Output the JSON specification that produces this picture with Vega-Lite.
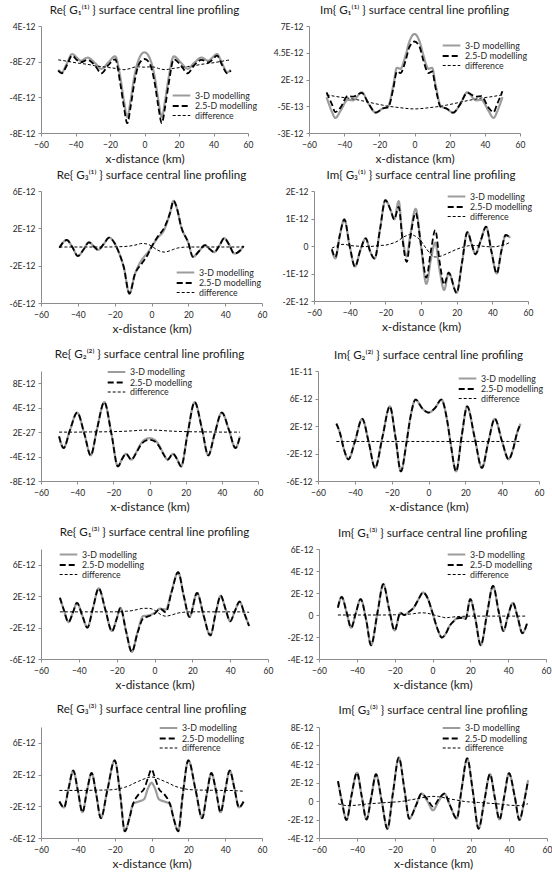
{
"$schema":"https://vega.github.io/schema/vega-lite/v6.json",
"padding":{"left":7,"top":4,"right":0,"bottom":0},
"datasets":{
"names":[{"k":"a","label":"3-D modelling"},{"k":"b","label":"2.5-D modelling"},{"k":"c","label":"difference"}],
"rows":[
{"p":1,"x":-50,"a":-0.9e-12,"b":-1.0e-12,"c":0.2e-12},
{"p":1,"x":-48,"a":-1.2e-12,"b":-1.3e-12,"c":0.15e-12},
{"p":1,"x":-45,"a":-0.2e-12,"b":-0.4e-12,"c":0.05e-12},
{"p":1,"x":-42,"a":0.86e-12,"b":0.67e-12,"c":-0.05e-12},
{"p":1,"x":-39,"a":0.4e-12,"b":0.15e-12,"c":-0.15e-12},
{"p":1,"x":-37,"a":0.1e-12,"b":-0.07e-12,"c":-0.2e-12},
{"p":1,"x":-33,"a":0.45e-12,"b":0.2e-12,"c":-0.3e-12},
{"p":1,"x":-29,"a":-0.1e-12,"b":-0.35e-12,"c":-0.45e-12},
{"p":1,"x":-25,"a":-0.8e-12,"b":-1.3e-12,"c":-0.55e-12},
{"p":1,"x":-21,"a":-0.1e-12,"b":-0.4e-12,"c":-0.65e-12},
{"p":1,"x":-17,"a":0.6e-12,"b":0.26e-12,"c":-0.75e-12},
{"p":1,"x":-14,"a":-1.8e-12,"b":-2.5e-12,"c":-0.85e-12},
{"p":1,"x":-12,"a":-4.3e-12,"b":-5.0e-12,"c":-0.9e-12},
{"p":1,"x":-10,"a":-6.2e-12,"b":-6.9e-12,"c":-0.85e-12},
{"p":1,"x":-8,"a":-4.3e-12,"b":-5.0e-12,"c":-0.75e-12},
{"p":1,"x":-6,"a":-1.8e-12,"b":-2.5e-12,"c":-0.62e-12},
{"p":1,"x":-3,"a":0.4e-12,"b":-0.2e-12,"c":-0.58e-12},
{"p":1,"x":0,"a":1.05e-12,"b":0.3e-12,"c":-0.62e-12},
{"p":1,"x":3,"a":0.4e-12,"b":-0.2e-12,"c":-0.58e-12},
{"p":1,"x":6,"a":-1.8e-12,"b":-2.5e-12,"c":-0.62e-12},
{"p":1,"x":8,"a":-4.3e-12,"b":-5.0e-12,"c":-0.75e-12},
{"p":1,"x":10,"a":-6.2e-12,"b":-6.9e-12,"c":-0.85e-12},
{"p":1,"x":12,"a":-4.3e-12,"b":-5.0e-12,"c":-0.9e-12},
{"p":1,"x":14,"a":-1.8e-12,"b":-2.5e-12,"c":-0.85e-12},
{"p":1,"x":17,"a":0.6e-12,"b":0.26e-12,"c":-0.75e-12},
{"p":1,"x":21,"a":-0.1e-12,"b":-0.4e-12,"c":-0.65e-12},
{"p":1,"x":25,"a":-0.8e-12,"b":-1.3e-12,"c":-0.55e-12},
{"p":1,"x":29,"a":-0.1e-12,"b":-0.35e-12,"c":-0.45e-12},
{"p":1,"x":33,"a":0.45e-12,"b":0.2e-12,"c":-0.3e-12},
{"p":1,"x":37,"a":0.1e-12,"b":-0.07e-12,"c":-0.2e-12},
{"p":1,"x":39,"a":0.4e-12,"b":0.15e-12,"c":-0.15e-12},
{"p":1,"x":42,"a":0.86e-12,"b":0.67e-12,"c":-0.05e-12},
{"p":1,"x":45,"a":-0.2e-12,"b":-0.4e-12,"c":0.05e-12},
{"p":1,"x":48,"a":-1.2e-12,"b":-1.3e-12,"c":0.15e-12},
{"p":1,"x":50,"a":-0.9e-12,"b":-1.0e-12,"c":0.2e-12},

{"p":2,"x":-50,"a":0.35e-12,"b":0.8e-12,"c":0.55e-12},
{"p":2,"x":-47,"a":-1.0e-12,"b":-0.3e-12,"c":0.48e-12},
{"p":2,"x":-45,"a":-1.6e-12,"b":-1.05e-12,"c":0.42e-12},
{"p":2,"x":-42,"a":-0.9e-12,"b":-0.6e-12,"c":0.35e-12},
{"p":2,"x":-38,"a":0.1e-12,"b":0.45e-12,"c":0.27e-12},
{"p":2,"x":-35,"a":0.05e-12,"b":0.4e-12,"c":0.18e-12},
{"p":2,"x":-30,"a":0.8e-12,"b":0.75e-12,"c":0.02e-12},
{"p":2,"x":-26,"a":-0.3e-12,"b":-0.3e-12,"c":-0.12e-12},
{"p":2,"x":-22,"a":-1.1e-12,"b":-1.1e-12,"c":-0.27e-12},
{"p":2,"x":-18,"a":-0.7e-12,"b":-0.7e-12,"c":-0.4e-12},
{"p":2,"x":-15,"a":-0.5e-12,"b":-0.6e-12,"c":-0.5e-12},
{"p":2,"x":-12,"a":1.5e-12,"b":1.2e-12,"c":-0.56e-12},
{"p":2,"x":-10,"a":3.1e-12,"b":2.75e-12,"c":-0.6e-12},
{"p":2,"x":-8,"a":3.0e-12,"b":2.6e-12,"c":-0.64e-12},
{"p":2,"x":-5,"a":4.3e-12,"b":3.8e-12,"c":-0.7e-12},
{"p":2,"x":-3,"a":5.5e-12,"b":5.0e-12,"c":-0.73e-12},
{"p":2,"x":0,"a":6.25e-12,"b":5.55e-12,"c":-0.75e-12},
{"p":2,"x":3,"a":5.5e-12,"b":5.0e-12,"c":-0.73e-12},
{"p":2,"x":5,"a":4.3e-12,"b":3.8e-12,"c":-0.7e-12},
{"p":2,"x":8,"a":3.0e-12,"b":2.6e-12,"c":-0.64e-12},
{"p":2,"x":10,"a":3.1e-12,"b":2.75e-12,"c":-0.6e-12},
{"p":2,"x":12,"a":1.5e-12,"b":1.2e-12,"c":-0.56e-12},
{"p":2,"x":15,"a":-0.5e-12,"b":-0.6e-12,"c":-0.5e-12},
{"p":2,"x":18,"a":-0.7e-12,"b":-0.7e-12,"c":-0.4e-12},
{"p":2,"x":22,"a":-1.1e-12,"b":-1.1e-12,"c":-0.27e-12},
{"p":2,"x":26,"a":-0.3e-12,"b":-0.3e-12,"c":-0.12e-12},
{"p":2,"x":30,"a":0.8e-12,"b":0.75e-12,"c":0.02e-12},
{"p":2,"x":35,"a":0.05e-12,"b":0.4e-12,"c":0.18e-12},
{"p":2,"x":38,"a":0.1e-12,"b":0.45e-12,"c":0.27e-12},
{"p":2,"x":42,"a":-0.9e-12,"b":-0.6e-12,"c":0.35e-12},
{"p":2,"x":45,"a":-1.6e-12,"b":-1.05e-12,"c":0.42e-12},
{"p":2,"x":47,"a":-1.0e-12,"b":-0.3e-12,"c":0.48e-12},
{"p":2,"x":50,"a":0.35e-12,"b":0.9e-12,"c":0.55e-12},

{"p":3,"x":-50,"a":-0.07e-12,"b":-0.07e-12,"c":0},
{"p":3,"x":-46,"a":0.75e-12,"b":0.75e-12,"c":0},
{"p":3,"x":-43,"a":0.0,"b":0.0,"c":0},
{"p":3,"x":-40,"a":-0.97e-12,"b":-0.97e-12,"c":0},
{"p":3,"x":-37,"a":-0.3e-12,"b":-0.3e-12,"c":0},
{"p":3,"x":-34,"a":0.5e-12,"b":0.5e-12,"c":0},
{"p":3,"x":-31,"a":0.0,"b":0.0,"c":0},
{"p":3,"x":-29,"a":-0.3e-12,"b":-0.3e-12,"c":0},
{"p":3,"x":-26,"a":0.3e-12,"b":0.3e-12,"c":0},
{"p":3,"x":-23,"a":1.0e-12,"b":1.0e-12,"c":0},
{"p":3,"x":-20,"a":0.4e-12,"b":0.4e-12,"c":0.02e-12},
{"p":3,"x":-18,"a":-0.45e-12,"b":-0.45e-12,"c":0.03e-12},
{"p":3,"x":-15,"a":-2.2e-12,"b":-2.2e-12,"c":0.05e-12},
{"p":3,"x":-12,"a":-5.0e-12,"b":-5.0e-12,"c":0.1e-12},
{"p":3,"x":-9,"a":-2.9e-12,"b":-2.9e-12,"c":0.2e-12},
{"p":3,"x":-5,"a":-1.3e-12,"b":-1.7e-12,"c":0.38e-12},
{"p":3,"x":-2,"a":-0.6e-12,"b":-0.8e-12,"c":0.3e-12},
{"p":3,"x":0,"a":0.0,"b":0.0,"c":0.1e-12},
{"p":3,"x":3,"a":0.9e-12,"b":1.0e-12,"c":-0.3e-12},
{"p":3,"x":7,"a":1.9e-12,"b":2.1e-12,"c":-0.55e-12},
{"p":3,"x":10,"a":3.6e-12,"b":3.6e-12,"c":-0.4e-12},
{"p":3,"x":12,"a":4.95e-12,"b":4.95e-12,"c":-0.25e-12},
{"p":3,"x":14,"a":4.0e-12,"b":4.0e-12,"c":-0.12e-12},
{"p":3,"x":16,"a":2.25e-12,"b":2.25e-12,"c":-0.05e-12},
{"p":3,"x":20,"a":0.45e-12,"b":0.45e-12,"c":0},
{"p":3,"x":22.5,"a":-1.05e-12,"b":-1.05e-12,"c":0},
{"p":3,"x":26,"a":-0.4e-12,"b":-0.4e-12,"c":0},
{"p":3,"x":29,"a":0.2e-12,"b":0.2e-12,"c":0},
{"p":3,"x":31.5,"a":-0.2e-12,"b":-0.2e-12,"c":0},
{"p":3,"x":34,"a":-0.55e-12,"b":-0.55e-12,"c":0},
{"p":3,"x":37,"a":0.2e-12,"b":0.2e-12,"c":0},
{"p":3,"x":39.5,"a":0.95e-12,"b":0.95e-12,"c":0},
{"p":3,"x":42,"a":0.3e-12,"b":0.3e-12,"c":0},
{"p":3,"x":45,"a":-0.7e-12,"b":-0.7e-12,"c":0},
{"p":3,"x":48,"a":-0.4e-12,"b":-0.4e-12,"c":0},
{"p":3,"x":50,"a":0.1e-12,"b":0.1e-12,"c":0},

{"p":4,"x":-50,"a":-0.15e-12,"b":-0.12e-12,"c":-0.08e-12},
{"p":4,"x":-48,"a":-0.45e-12,"b":-0.4e-12,"c":-0.02e-12},
{"p":4,"x":-45.5,"a":0.4e-12,"b":0.4e-12,"c":0.05e-12},
{"p":4,"x":-43,"a":0.97e-12,"b":0.97e-12,"c":0.06e-12},
{"p":4,"x":-40,"a":0.0,"b":0.0,"c":0.02e-12},
{"p":4,"x":-37,"a":-0.75e-12,"b":-0.75e-12,"c":0.0},
{"p":4,"x":-34,"a":-0.15e-12,"b":-0.15e-12,"c":-0.01e-12},
{"p":4,"x":-31,"a":0.28e-12,"b":0.28e-12,"c":-0.02e-12},
{"p":4,"x":-28.5,"a":-0.2e-12,"b":-0.2e-12,"c":-0.02e-12},
{"p":4,"x":-26,"a":-0.46e-12,"b":-0.46e-12,"c":0.0},
{"p":4,"x":-23,"a":0.6e-12,"b":0.6e-12,"c":0.02e-12},
{"p":4,"x":-20,"a":1.67e-12,"b":1.67e-12,"c":0.03e-12},
{"p":4,"x":-17,"a":1.3e-12,"b":1.3e-12,"c":0.08e-12},
{"p":4,"x":-15,"a":0.97e-12,"b":0.97e-12,"c":0.12e-12},
{"p":4,"x":-12.5,"a":1.63e-12,"b":1.42e-12,"c":0.2e-12},
{"p":4,"x":-10.5,"a":0.4e-12,"b":0.3e-12,"c":0.3e-12},
{"p":4,"x":-8,"a":-0.38e-12,"b":-0.58e-12,"c":0.38e-12},
{"p":4,"x":-6,"a":0.4e-12,"b":0.3e-12,"c":0.42e-12},
{"p":4,"x":-3,"a":1.35e-12,"b":1.2e-12,"c":0.35e-12},
{"p":4,"x":0,"a":0.0,"b":0.05e-12,"c":0.18e-12},
{"p":4,"x":3,"a":-1.38e-12,"b":-1.15e-12,"c":-0.1e-12},
{"p":4,"x":5.5,"a":-0.5e-12,"b":-0.2e-12,"c":-0.3e-12},
{"p":4,"x":8,"a":0.12e-12,"b":0.58e-12,"c":-0.4e-12},
{"p":4,"x":10.5,"a":-0.9e-12,"b":-0.6e-12,"c":-0.38e-12},
{"p":4,"x":13,"a":-1.6e-12,"b":-1.4e-12,"c":-0.32e-12},
{"p":4,"x":15.5,"a":-0.97e-12,"b":-0.97e-12,"c":-0.25e-12},
{"p":4,"x":20,"a":-1.7e-12,"b":-1.7e-12,"c":-0.12e-12},
{"p":4,"x":23,"a":-0.6e-12,"b":-0.6e-12,"c":-0.05e-12},
{"p":4,"x":26,"a":0.5e-12,"b":0.5e-12,"c":0.0},
{"p":4,"x":28.5,"a":0.05e-12,"b":0.05e-12,"c":0.02e-12},
{"p":4,"x":30.5,"a":-0.3e-12,"b":-0.3e-12,"c":0.02e-12},
{"p":4,"x":33.5,"a":0.2e-12,"b":0.2e-12,"c":0.0},
{"p":4,"x":36.5,"a":0.7e-12,"b":0.7e-12,"c":-0.02e-12},
{"p":4,"x":39.5,"a":-0.2e-12,"b":-0.2e-12,"c":-0.03e-12},
{"p":4,"x":42.5,"a":-1.0e-12,"b":-1.0e-12,"c":-0.02e-12},
{"p":4,"x":45,"a":-0.2e-12,"b":-0.2e-12,"c":0.02e-12},
{"p":4,"x":47.5,"a":0.4e-12,"b":0.4e-12,"c":0.06e-12},
{"p":4,"x":50,"a":0.3e-12,"b":0.3e-12,"c":0.14e-12},

{"p":5,"x":-50,"a":-0.7e-12,"b":-0.7e-12,"c":0.0},
{"p":5,"x":-47.5,"a":-2.6e-12,"b":-2.6e-12,"c":0.0},
{"p":5,"x":-44,"a":0.3e-12,"b":0.3e-12,"c":0.0},
{"p":5,"x":-40,"a":3.2e-12,"b":3.2e-12,"c":0.0},
{"p":5,"x":-36,"a":-0.3e-12,"b":-0.3e-12,"c":0.02e-12},
{"p":5,"x":-32.5,"a":-3.8e-12,"b":-3.8e-12,"c":0.03e-12},
{"p":5,"x":-29,"a":0.55e-12,"b":0.55e-12,"c":0.04e-12},
{"p":5,"x":-25,"a":4.9e-12,"b":4.9e-12,"c":0.05e-12},
{"p":5,"x":-21,"a":-0.35e-12,"b":-0.35e-12,"c":0.07e-12},
{"p":5,"x":-17.5,"a":-5.6e-12,"b":-5.6e-12,"c":0.1e-12},
{"p":5,"x":-15,"a":-4.3e-12,"b":-4.3e-12,"c":0.12e-12},
{"p":5,"x":-13,"a":-3.55e-12,"b":-3.55e-12,"c":0.15e-12},
{"p":5,"x":-10,"a":-4.5e-12,"b":-4.5e-12,"c":0.2e-12},
{"p":5,"x":-7.5,"a":-3.4e-12,"b":-3.5e-12,"c":0.25e-12},
{"p":5,"x":-5,"a":-2.0e-12,"b":-2.2e-12,"c":0.3e-12},
{"p":5,"x":-2.5,"a":-1.2e-12,"b":-1.45e-12,"c":0.33e-12},
{"p":5,"x":0,"a":-1.0e-12,"b":-1.25e-12,"c":0.35e-12},
{"p":5,"x":2.5,"a":-1.2e-12,"b":-1.45e-12,"c":0.33e-12},
{"p":5,"x":5,"a":-2.0e-12,"b":-2.2e-12,"c":0.3e-12},
{"p":5,"x":7.5,"a":-3.4e-12,"b":-3.5e-12,"c":0.25e-12},
{"p":5,"x":10,"a":-4.5e-12,"b":-4.5e-12,"c":0.2e-12},
{"p":5,"x":13,"a":-3.55e-12,"b":-3.55e-12,"c":0.15e-12},
{"p":5,"x":15,"a":-4.3e-12,"b":-4.3e-12,"c":0.12e-12},
{"p":5,"x":17.5,"a":-5.6e-12,"b":-5.6e-12,"c":0.1e-12},
{"p":5,"x":21,"a":-0.35e-12,"b":-0.35e-12,"c":0.07e-12},
{"p":5,"x":25,"a":4.9e-12,"b":4.9e-12,"c":0.05e-12},
{"p":5,"x":29,"a":0.55e-12,"b":0.55e-12,"c":0.04e-12},
{"p":5,"x":32.5,"a":-3.8e-12,"b":-3.8e-12,"c":0.03e-12},
{"p":5,"x":36,"a":-0.3e-12,"b":-0.3e-12,"c":0.02e-12},
{"p":5,"x":40,"a":3.2e-12,"b":3.2e-12,"c":0.0},
{"p":5,"x":44,"a":0.3e-12,"b":0.3e-12,"c":0.0},
{"p":5,"x":47.5,"a":-2.6e-12,"b":-2.6e-12,"c":0.0},
{"p":5,"x":50,"a":-0.7e-12,"b":-0.7e-12,"c":0.0},

{"p":6,"x":-50,"a":2.35e-12,"b":2.35e-12,"c":-0.25e-12},
{"p":6,"x":-48,"a":0.9e-12,"b":0.9e-12,"c":-0.25e-12},
{"p":6,"x":-46,"a":-1.3e-12,"b":-1.3e-12,"c":-0.25e-12},
{"p":6,"x":-43.5,"a":-2.85e-12,"b":-2.85e-12,"c":-0.25e-12},
{"p":6,"x":-40,"a":-0.3e-12,"b":-0.3e-12,"c":-0.25e-12},
{"p":6,"x":-36,"a":3.05e-12,"b":3.05e-12,"c":-0.25e-12},
{"p":6,"x":-32.5,"a":-0.3e-12,"b":-0.3e-12,"c":-0.25e-12},
{"p":6,"x":-29,"a":-4.1e-12,"b":-4.1e-12,"c":-0.25e-12},
{"p":6,"x":-25,"a":0.4e-12,"b":0.4e-12,"c":-0.25e-12},
{"p":6,"x":-21,"a":4.85e-12,"b":4.85e-12,"c":-0.25e-12},
{"p":6,"x":-18,"a":0.5e-12,"b":0.5e-12,"c":-0.25e-12},
{"p":6,"x":-15,"a":-4.6e-12,"b":-4.6e-12,"c":-0.25e-12},
{"p":6,"x":-12,"a":-0.5e-12,"b":-0.5e-12,"c":-0.25e-12},
{"p":6,"x":-10,"a":3.0e-12,"b":3.0e-12,"c":-0.25e-12},
{"p":6,"x":-7,"a":5.85e-12,"b":5.85e-12,"c":-0.25e-12},
{"p":6,"x":-3.5,"a":4.6e-12,"b":4.6e-12,"c":-0.25e-12},
{"p":6,"x":0,"a":3.95e-12,"b":3.95e-12,"c":-0.25e-12},
{"p":6,"x":3.5,"a":4.6e-12,"b":4.6e-12,"c":-0.25e-12},
{"p":6,"x":7,"a":5.85e-12,"b":5.85e-12,"c":-0.25e-12},
{"p":6,"x":10,"a":3.0e-12,"b":3.0e-12,"c":-0.25e-12},
{"p":6,"x":12,"a":-0.5e-12,"b":-0.5e-12,"c":-0.25e-12},
{"p":6,"x":15,"a":-4.6e-12,"b":-4.6e-12,"c":-0.25e-12},
{"p":6,"x":18,"a":0.5e-12,"b":0.5e-12,"c":-0.25e-12},
{"p":6,"x":21,"a":4.85e-12,"b":4.85e-12,"c":-0.25e-12},
{"p":6,"x":25,"a":0.4e-12,"b":0.4e-12,"c":-0.25e-12},
{"p":6,"x":29,"a":-4.1e-12,"b":-4.1e-12,"c":-0.25e-12},
{"p":6,"x":32.5,"a":-0.3e-12,"b":-0.3e-12,"c":-0.25e-12},
{"p":6,"x":36,"a":3.05e-12,"b":3.05e-12,"c":-0.25e-12},
{"p":6,"x":40,"a":-0.3e-12,"b":-0.3e-12,"c":-0.25e-12},
{"p":6,"x":43.5,"a":-2.85e-12,"b":-2.85e-12,"c":-0.25e-12},
{"p":6,"x":46,"a":-1.3e-12,"b":-1.3e-12,"c":-0.25e-12},
{"p":6,"x":48,"a":0.9e-12,"b":0.9e-12,"c":-0.25e-12},
{"p":6,"x":50,"a":2.35e-12,"b":2.35e-12,"c":-0.25e-12},

{"p":7,"x":-50,"a":1.8e-12,"b":1.8e-12,"c":0.0},
{"p":7,"x":-48,"a":0.3e-12,"b":0.3e-12,"c":0.0},
{"p":7,"x":-45.5,"a":-1.3e-12,"b":-1.3e-12,"c":0.0},
{"p":7,"x":-43,"a":0.0,"b":0.0,"c":0.0},
{"p":7,"x":-41,"a":1.15e-12,"b":1.15e-12,"c":0.0},
{"p":7,"x":-38,"a":-0.6e-12,"b":-0.6e-12,"c":0.0},
{"p":7,"x":-35.5,"a":-2.0e-12,"b":-2.0e-12,"c":0.0},
{"p":7,"x":-32.5,"a":0.5e-12,"b":0.5e-12,"c":0.0},
{"p":7,"x":-29.5,"a":3.0e-12,"b":3.0e-12,"c":0.0},
{"p":7,"x":-26,"a":0.3e-12,"b":0.3e-12,"c":0.0},
{"p":7,"x":-22.5,"a":-2.45e-12,"b":-2.45e-12,"c":0.0},
{"p":7,"x":-20,"a":-0.9e-12,"b":-0.9e-12,"c":0.01e-12},
{"p":7,"x":-18,"a":0.5e-12,"b":0.5e-12,"c":0.02e-12},
{"p":7,"x":-15,"a":-2.5e-12,"b":-2.5e-12,"c":0.08e-12},
{"p":7,"x":-12,"a":-5.1e-12,"b":-5.1e-12,"c":0.15e-12},
{"p":7,"x":-9,"a":-2.6e-12,"b":-2.7e-12,"c":0.3e-12},
{"p":7,"x":-6,"a":-0.55e-12,"b":-0.85e-12,"c":0.45e-12},
{"p":7,"x":-3,"a":-0.45e-12,"b":-0.55e-12,"c":0.45e-12},
{"p":7,"x":0,"a":-0.15e-12,"b":-0.25e-12,"c":0.2e-12},
{"p":7,"x":3,"a":0.4e-12,"b":0.4e-12,"c":-0.3e-12},
{"p":7,"x":6,"a":0.3e-12,"b":-0.05e-12,"c":-0.55e-12},
{"p":7,"x":9,"a":2.6e-12,"b":2.5e-12,"c":-0.4e-12},
{"p":7,"x":12.5,"a":5.05e-12,"b":5.05e-12,"c":-0.15e-12},
{"p":7,"x":15.5,"a":2.0e-12,"b":2.0e-12,"c":-0.05e-12},
{"p":7,"x":18.5,"a":-0.65e-12,"b":-0.65e-12,"c":0.0},
{"p":7,"x":22.5,"a":2.4e-12,"b":2.4e-12,"c":0.0},
{"p":7,"x":26,"a":-0.5e-12,"b":-0.5e-12,"c":0.0},
{"p":7,"x":29.5,"a":-3.0e-12,"b":-3.0e-12,"c":0.0},
{"p":7,"x":32.5,"a":0.0,"b":0.0,"c":0.0},
{"p":7,"x":35,"a":2.05e-12,"b":2.05e-12,"c":0.0},
{"p":7,"x":37.5,"a":0.4e-12,"b":0.4e-12,"c":0.0},
{"p":7,"x":40,"a":-1.2e-12,"b":-1.2e-12,"c":0.0},
{"p":7,"x":42.5,"a":0.1e-12,"b":0.1e-12,"c":0.0},
{"p":7,"x":45,"a":1.3e-12,"b":1.3e-12,"c":0.0},
{"p":7,"x":47.5,"a":-0.2e-12,"b":-0.2e-12,"c":-0.02e-12},
{"p":7,"x":50,"a":-1.8e-12,"b":-1.8e-12,"c":-0.05e-12},

{"p":8,"x":-50,"a":0.67e-12,"b":0.67e-12,"c":0.0},
{"p":8,"x":-48,"a":1.65e-12,"b":1.65e-12,"c":0.0},
{"p":8,"x":-45.5,"a":0.3e-12,"b":0.3e-12,"c":0.0},
{"p":8,"x":-43,"a":-1.15e-12,"b":-1.15e-12,"c":0.0},
{"p":8,"x":-40.5,"a":0.2e-12,"b":0.2e-12,"c":0.0},
{"p":8,"x":-38,"a":1.45e-12,"b":1.45e-12,"c":0.0},
{"p":8,"x":-35,"a":-0.5e-12,"b":-0.5e-12,"c":0.0},
{"p":8,"x":-32.5,"a":-2.75e-12,"b":-2.75e-12,"c":0.0},
{"p":8,"x":-29,"a":0.3e-12,"b":0.3e-12,"c":0.0},
{"p":8,"x":-26,"a":2.8e-12,"b":2.8e-12,"c":0.0},
{"p":8,"x":-23,"a":0.6e-12,"b":0.6e-12,"c":0.01e-12},
{"p":8,"x":-20,"a":-1.4e-12,"b":-1.4e-12,"c":0.02e-12},
{"p":8,"x":-17,"a":0.2e-12,"b":0.2e-12,"c":0.03e-12},
{"p":8,"x":-15,"a":0.0,"b":0.0,"c":0.05e-12},
{"p":8,"x":-12,"a":0.35e-12,"b":0.35e-12,"c":0.08e-12},
{"p":8,"x":-10,"a":0.65e-12,"b":0.65e-12,"c":0.12e-12},
{"p":8,"x":-7.5,"a":1.4e-12,"b":1.4e-12,"c":0.18e-12},
{"p":8,"x":-5,"a":2.05e-12,"b":2.05e-12,"c":0.2e-12},
{"p":8,"x":-2.5,"a":1.5e-12,"b":1.5e-12,"c":0.15e-12},
{"p":8,"x":0,"a":0.2e-12,"b":0.2e-12,"c":0.05e-12},
{"p":8,"x":2.5,"a":-1.2e-12,"b":-1.2e-12,"c":-0.08e-12},
{"p":8,"x":5,"a":-2.05e-12,"b":-2.05e-12,"c":-0.18e-12},
{"p":8,"x":7,"a":-1.7e-12,"b":-1.7e-12,"c":-0.25e-12},
{"p":8,"x":9,"a":-1.0e-12,"b":-1.0e-12,"c":-0.22e-12},
{"p":8,"x":11,"a":-0.6e-12,"b":-0.6e-12,"c":-0.18e-12},
{"p":8,"x":13,"a":-0.3e-12,"b":-0.3e-12,"c":-0.14e-12},
{"p":8,"x":16,"a":-0.25e-12,"b":-0.25e-12,"c":-0.12e-12},
{"p":8,"x":17.5,"a":-0.35e-12,"b":-0.35e-12,"c":-0.11e-12},
{"p":8,"x":20,"a":1.45e-12,"b":1.45e-12,"c":-0.1e-12},
{"p":8,"x":22.5,"a":-0.2e-12,"b":-0.2e-12,"c":-0.1e-12},
{"p":8,"x":25.5,"a":-2.75e-12,"b":-2.75e-12,"c":-0.1e-12},
{"p":8,"x":29,"a":0.3e-12,"b":0.3e-12,"c":-0.1e-12},
{"p":8,"x":32,"a":2.65e-12,"b":2.65e-12,"c":-0.1e-12},
{"p":8,"x":35,"a":0.3e-12,"b":0.3e-12,"c":-0.1e-12},
{"p":8,"x":37.5,"a":-1.45e-12,"b":-1.45e-12,"c":-0.1e-12},
{"p":8,"x":40,"a":0.0,"b":0.0,"c":-0.1e-12},
{"p":8,"x":42.5,"a":1.1e-12,"b":1.1e-12,"c":-0.1e-12},
{"p":8,"x":45,"a":-0.2e-12,"b":-0.2e-12,"c":-0.1e-12},
{"p":8,"x":47.5,"a":-1.65e-12,"b":-1.65e-12,"c":-0.1e-12},
{"p":8,"x":50,"a":-0.75e-12,"b":-0.75e-12,"c":-0.1e-12},

{"p":9,"x":-50,"a":-1.4e-12,"b":-1.4e-12,"c":0.0},
{"p":9,"x":-47.5,"a":-2.15e-12,"b":-2.15e-12,"c":0.0},
{"p":9,"x":-45,"a":0.3e-12,"b":0.3e-12,"c":0.0},
{"p":9,"x":-42.5,"a":2.5e-12,"b":2.5e-12,"c":0.0},
{"p":9,"x":-40,"a":0.0,"b":0.0,"c":0.0},
{"p":9,"x":-37.5,"a":-2.75e-12,"b":-2.75e-12,"c":0.0},
{"p":9,"x":-35,"a":0.0,"b":0.0,"c":0.01e-12},
{"p":9,"x":-32.5,"a":2.2e-12,"b":2.2e-12,"c":0.02e-12},
{"p":9,"x":-30,"a":-0.5e-12,"b":-0.5e-12,"c":0.03e-12},
{"p":9,"x":-27.5,"a":-3.5e-12,"b":-3.5e-12,"c":0.04e-12},
{"p":9,"x":-24,"a":0.0,"b":0.0,"c":0.06e-12},
{"p":9,"x":-20,"a":3.8e-12,"b":3.8e-12,"c":0.12e-12},
{"p":9,"x":-17,"a":-0.5e-12,"b":-0.5e-12,"c":0.25e-12},
{"p":9,"x":-14.5,"a":-5.15e-12,"b":-5.15e-12,"c":0.4e-12},
{"p":9,"x":-12,"a":-3.5e-12,"b":-3.5e-12,"c":0.6e-12},
{"p":9,"x":-10,"a":-1.7e-12,"b":-1.7e-12,"c":0.85e-12},
{"p":9,"x":-7,"a":-1.4e-12,"b":-0.5e-12,"c":1.15e-12},
{"p":9,"x":-4,"a":-1.1e-12,"b":0.2e-12,"c":1.45e-12},
{"p":9,"x":-2,"a":0.2e-12,"b":1.5e-12,"c":1.62e-12},
{"p":9,"x":0,"a":0.95e-12,"b":2.65e-12,"c":1.7e-12},
{"p":9,"x":2,"a":0.2e-12,"b":1.5e-12,"c":1.62e-12},
{"p":9,"x":4,"a":-1.1e-12,"b":0.2e-12,"c":1.45e-12},
{"p":9,"x":7,"a":-1.4e-12,"b":-0.5e-12,"c":1.15e-12},
{"p":9,"x":10,"a":-1.7e-12,"b":-1.7e-12,"c":0.85e-12},
{"p":9,"x":12,"a":-3.5e-12,"b":-3.5e-12,"c":0.6e-12},
{"p":9,"x":14.5,"a":-5.15e-12,"b":-5.15e-12,"c":0.4e-12},
{"p":9,"x":17,"a":-0.5e-12,"b":-0.5e-12,"c":0.25e-12},
{"p":9,"x":20,"a":3.8e-12,"b":3.8e-12,"c":0.12e-12},
{"p":9,"x":24,"a":0.0,"b":0.0,"c":0.06e-12},
{"p":9,"x":27.5,"a":-3.5e-12,"b":-3.5e-12,"c":0.04e-12},
{"p":9,"x":30,"a":-0.5e-12,"b":-0.5e-12,"c":0.03e-12},
{"p":9,"x":32.5,"a":2.2e-12,"b":2.2e-12,"c":0.02e-12},
{"p":9,"x":35,"a":0.0,"b":0.0,"c":0.01e-12},
{"p":9,"x":37.5,"a":-2.75e-12,"b":-2.75e-12,"c":0.0},
{"p":9,"x":40,"a":0.0,"b":0.0,"c":0.0},
{"p":9,"x":42.5,"a":2.5e-12,"b":2.5e-12,"c":0.0},
{"p":9,"x":45,"a":0.3e-12,"b":0.3e-12,"c":-0.03e-12},
{"p":9,"x":47.5,"a":-2.15e-12,"b":-2.15e-12,"c":-0.06e-12},
{"p":9,"x":50,"a":-1.4e-12,"b":-1.4e-12,"c":-0.1e-12},

{"p":10,"x":-50,"a":2.15e-12,"b":2.15e-12,"c":-0.3e-12},
{"p":10,"x":-48,"a":0.0,"b":0.0,"c":-0.4e-12},
{"p":10,"x":-45.5,"a":-2.05e-12,"b":-2.05e-12,"c":-0.5e-12},
{"p":10,"x":-43,"a":0.5e-12,"b":0.5e-12,"c":-0.48e-12},
{"p":10,"x":-40,"a":3.05e-12,"b":3.05e-12,"c":-0.45e-12},
{"p":10,"x":-37.5,"a":0.5e-12,"b":0.5e-12,"c":-0.38e-12},
{"p":10,"x":-35,"a":-2.0e-12,"b":-2.0e-12,"c":-0.33e-12},
{"p":10,"x":-32.5,"a":0.4e-12,"b":0.4e-12,"c":-0.28e-12},
{"p":10,"x":-30,"a":2.9e-12,"b":2.9e-12,"c":-0.25e-12},
{"p":10,"x":-27,"a":0.0,"b":0.0,"c":-0.2e-12},
{"p":10,"x":-24,"a":-3.0e-12,"b":-3.0e-12,"c":-0.16e-12},
{"p":10,"x":-21,"a":1.0e-12,"b":1.0e-12,"c":-0.12e-12},
{"p":10,"x":-18,"a":4.7e-12,"b":4.7e-12,"c":-0.08e-12},
{"p":10,"x":-15,"a":1.2e-12,"b":1.2e-12,"c":0.0},
{"p":10,"x":-12.5,"a":-1.9e-12,"b":-1.9e-12,"c":0.1e-12},
{"p":10,"x":-9,"a":-0.5e-12,"b":-0.5e-12,"c":0.22e-12},
{"p":10,"x":-6,"a":0.8e-12,"b":0.8e-12,"c":0.35e-12},
{"p":10,"x":-3,"a":0.0,"b":0.2e-12,"c":0.45e-12},
{"p":10,"x":0,"a":-1.0e-12,"b":-0.6e-12,"c":0.5e-12},
{"p":10,"x":3,"a":0.0,"b":0.2e-12,"c":0.45e-12},
{"p":10,"x":6,"a":0.8e-12,"b":0.8e-12,"c":0.35e-12},
{"p":10,"x":9,"a":-0.5e-12,"b":-0.5e-12,"c":0.22e-12},
{"p":10,"x":12.5,"a":-1.9e-12,"b":-1.9e-12,"c":0.1e-12},
{"p":10,"x":15,"a":1.2e-12,"b":1.2e-12,"c":0.0},
{"p":10,"x":18,"a":4.6e-12,"b":4.6e-12,"c":-0.08e-12},
{"p":10,"x":21,"a":1.0e-12,"b":1.0e-12,"c":-0.12e-12},
{"p":10,"x":24,"a":-3.0e-12,"b":-3.0e-12,"c":-0.16e-12},
{"p":10,"x":27,"a":0.0,"b":0.0,"c":-0.2e-12},
{"p":10,"x":30,"a":2.9e-12,"b":2.9e-12,"c":-0.25e-12},
{"p":10,"x":32.5,"a":0.4e-12,"b":0.4e-12,"c":-0.28e-12},
{"p":10,"x":35,"a":-2.0e-12,"b":-2.0e-12,"c":-0.33e-12},
{"p":10,"x":37.5,"a":0.5e-12,"b":0.5e-12,"c":-0.38e-12},
{"p":10,"x":40,"a":3.0e-12,"b":3.0e-12,"c":-0.45e-12},
{"p":10,"x":43,"a":0.5e-12,"b":0.5e-12,"c":-0.48e-12},
{"p":10,"x":45.5,"a":-2.05e-12,"b":-2.05e-12,"c":-0.5e-12},
{"p":10,"x":48,"a":0.0,"b":0.0,"c":-0.4e-12},
{"p":10,"x":50,"a":2.2e-12,"b":2.2e-12,"c":-0.3e-12}
]},
"data":{"name":"rows"},
"transform":[
{"fold":["a","b","c"],"as":["k","v"]},
{"lookup":"k","from":{"data":{"name":"names"},"key":"k","fields":["label"]}},
{"filter":"isValid(datum.v)"}
],
"config":{
"font":"Lato",
"view":{"stroke":null},
"title":{"fontSize":11.6,"fontWeight":"normal","frame":"group","offset":5,"color":"#1a1a1a","font":"Lato"},
"axis":{"grid":false,"domainColor":"#8c8c8c","tickColor":"#8c8c8c","tickSize":3,"labelFontSize":8.5,"labelColor":"#262626","labelFont":"Lato","titleFont":"Lato","titleFontSize":12,"titleFontWeight":"normal","titleColor":"#1a1a1a","labelFlush":false,"labelOverlap":false},
"axisX":{"labelPadding":4,"titlePadding":5},
"axisY":{"minExtent":34,"maxExtent":34,"labelPadding":3},
"legend":{"orient":"none","symbolType":"M-2.2,0H2.2","symbolSize":64,"labelFontSize":8.8,"labelFont":"Lato","labelColor":"#262626","padding":0,"rowPadding":0,"labelOffset":8}
},
"resolve":{"scale":{"color":"independent","strokeDash":"independent","strokeWidth":"independent"},"legend":{"color":"independent","strokeDash":"independent","strokeWidth":"independent"}},
"spacing":4,
"vconcat":[
{"hconcat":[
{"title":{"text":"Re{ G₁⁽¹⁾ }  surface central line profiling","offset":5.5},"width":207,"height":107,
"transform":[{"filter":"datum.p==1"}],
"mark":{"type":"line","interpolate":"monotone"},
"encoding":{
"x":{"field":"x","type":"quantitative","title":"x-distance (km)","scale":{"domain":[-60,60],"nice":false},"axis":{"values":[-60,-40,-20,0,20,40,60]}},
"y":{"field":"v","type":"quantitative","title":null,"scale":{"domain":[-8e-12,4e-12],"nice":false,"zero":false},"axis":{"values":[-8e-12,-4e-12,0,4e-12],"labelExpr":"datum.value==0?'-8E-27':upper(toString(datum.value))"}},
"color":{"field":"label","type":"nominal","title":null,"scale":{"domain":["3-D modelling","2.5-D modelling","difference"],"range":["#9c9c9c","#000000","#000000"]},"legend":{"legendX":135,"legendY":64}},
"strokeDash":{"field":"label","type":"nominal","title":null,"scale":{"domain":["3-D modelling","2.5-D modelling","difference"],"range":[[1,0],[6,3],[3,2]]}},
"strokeWidth":{"field":"label","type":"nominal","title":null,"scale":{"type":"ordinal","domain":["3-D modelling","2.5-D modelling","difference"],"range":[2.2,1.8,1]}}}},
{"title":{"text":"Im{ G₁⁽¹⁾ }  surface central line profiling","offset":5.5},"width":211,"height":107,
"transform":[{"filter":"datum.p==2"}],
"mark":{"type":"line","interpolate":"monotone"},
"encoding":{
"x":{"field":"x","type":"quantitative","title":"x-distance (km)","scale":{"domain":[-60,60],"nice":false},"axis":{"values":[-60,-40,-20,0,20,40,60]}},
"y":{"field":"v","type":"quantitative","title":null,"scale":{"domain":[-3e-12,7e-12],"nice":false,"zero":false},"axis":{"values":[-3e-12,-5e-13,2e-12,4.5e-12,7e-12],"labelExpr":"datum.value==0?'0':upper(toString(datum.value))"}},
"color":{"field":"label","type":"nominal","title":null,"scale":{"domain":["3-D modelling","2.5-D modelling","difference"],"range":["#9c9c9c","#000000","#000000"]},"legend":{"legendX":137,"legendY":14}},
"strokeDash":{"field":"label","type":"nominal","title":null,"scale":{"domain":["3-D modelling","2.5-D modelling","difference"],"range":[[1,0],[6,3],[3,2]]}},
"strokeWidth":{"field":"label","type":"nominal","title":null,"scale":{"type":"ordinal","domain":["3-D modelling","2.5-D modelling","difference"],"range":[2.2,1.8,1]}}}}
],"spacing":61,"bounds":"flush",
"resolve":{"scale":{"color":"independent","strokeDash":"independent","strokeWidth":"independent"},"legend":{"color":"independent","strokeDash":"independent","strokeWidth":"independent"}}},
{"vconcat":[
{"hconcat":[
{"title":{"text":"Re{ G₃⁽¹⁾ }  surface central line profiling","offset":5.5},"width":221,"height":112,
"transform":[{"filter":"datum.p==3"}],
"mark":{"type":"line","interpolate":"monotone"},
"encoding":{
"x":{"field":"x","type":"quantitative","title":"x-distance (km)","scale":{"domain":[-60,60],"nice":false},"axis":{"values":[-60,-40,-20,0,20,40,60]}},
"y":{"field":"v","type":"quantitative","title":null,"scale":{"domain":[-6e-12,6e-12],"nice":false,"zero":false},"axis":{"values":[-6e-12,-2e-12,2e-12,6e-12],"labelExpr":"datum.value==0?'0':upper(toString(datum.value))"}},
"color":{"field":"label","type":"nominal","title":null,"scale":{"domain":["3-D modelling","2.5-D modelling","difference"],"range":["#9c9c9c","#000000","#000000"]},"legend":{"legendX":139,"legendY":76}},
"strokeDash":{"field":"label","type":"nominal","title":null,"scale":{"domain":["3-D modelling","2.5-D modelling","difference"],"range":[[1,0],[6,3],[3,2]]}},
"strokeWidth":{"field":"label","type":"nominal","title":null,"scale":{"type":"ordinal","domain":["3-D modelling","2.5-D modelling","difference"],"range":[2.2,1.8,1]}}}},
{"title":{"text":"Im{ G₃⁽¹⁾ }  surface central line profiling","offset":5.5},"width":214,"height":110,
"transform":[{"filter":"datum.p==4"}],
"mark":{"type":"line","interpolate":"monotone"},
"encoding":{
"x":{"field":"x","type":"quantitative","title":"x-distance (km)","scale":{"domain":[-60,60],"nice":false},"axis":{"values":[-60,-40,-20,0,20,40,60]}},
"y":{"field":"v","type":"quantitative","title":null,"scale":{"domain":[-2e-12,2e-12],"nice":false,"zero":false},"axis":{"values":[-2e-12,-1e-12,0,1e-12,2e-12],"labelExpr":"datum.value==0?'0':upper(toString(datum.value))"}},
"color":{"field":"label","type":"nominal","title":null,"scale":{"domain":["3-D modelling","2.5-D modelling","difference"],"range":["#9c9c9c","#000000","#000000"]},"legend":{"legendX":137,"legendY":0}},
"strokeDash":{"field":"label","type":"nominal","title":null,"scale":{"domain":["3-D modelling","2.5-D modelling","difference"],"range":[[1,0],[6,3],[3,2]]}},
"strokeWidth":{"field":"label","type":"nominal","title":null,"scale":{"type":"ordinal","domain":["3-D modelling","2.5-D modelling","difference"],"range":[2.2,1.8,1]}}}}
],"spacing":52,"bounds":"flush",
"resolve":{"scale":{"color":"independent","strokeDash":"independent","strokeWidth":"independent"},"legend":{"color":"independent","strokeDash":"independent","strokeWidth":"independent"}}},
{"hconcat":[
{"title":{"text":"Re{ G₂⁽²⁾ }  surface central line profiling","offset":6},"width":217,"height":110,
"transform":[{"filter":"datum.p==5"}],
"mark":{"type":"line","interpolate":"monotone"},
"encoding":{
"x":{"field":"x","type":"quantitative","title":"x-distance (km)","scale":{"domain":[-60,60],"nice":false},"axis":{"values":[-60,-40,-20,0,20,40,60]}},
"y":{"field":"v","type":"quantitative","title":null,"scale":{"domain":[-8e-12,1e-11],"nice":false,"zero":false},"axis":{"values":[-8e-12,-4e-12,0,4e-12,8e-12],"labelExpr":"datum.value==0?'2E-27':upper(toString(datum.value))"}},
"color":{"field":"label","type":"nominal","title":null,"scale":{"domain":["3-D modelling","2.5-D modelling","difference"],"range":["#9c9c9c","#000000","#000000"]},"legend":{"legendX":70,"legendY":-4.5}},
"strokeDash":{"field":"label","type":"nominal","title":null,"scale":{"domain":["3-D modelling","2.5-D modelling","difference"],"range":[[1,0],[6,3],[3,2]]}},
"strokeWidth":{"field":"label","type":"nominal","title":null,"scale":{"type":"ordinal","domain":["3-D modelling","2.5-D modelling","difference"],"range":[2.2,1.8,1]}}}},
{"title":{"text":"Im{ G₂⁽²⁾ }  surface central line profiling","offset":5.5},"width":221,"height":110,
"transform":[{"filter":"datum.p==6"}],
"mark":{"type":"line","interpolate":"monotone"},
"encoding":{
"x":{"field":"x","type":"quantitative","title":"x-distance (km)","scale":{"domain":[-60,60],"nice":false},"axis":{"values":[-60,-40,-20,0,20,40,60]}},
"y":{"field":"v","type":"quantitative","title":null,"scale":{"domain":[-6e-12,1e-11],"nice":false,"zero":false},"axis":{"values":[-6e-12,-2e-12,2e-12,6e-12,1e-11],"labelExpr":"datum.value==0?'0':upper(toString(datum.value))"}},
"color":{"field":"label","type":"nominal","title":null,"scale":{"domain":["3-D modelling","2.5-D modelling","difference"],"range":["#9c9c9c","#000000","#000000"]},"legend":{"legendX":144,"legendY":2}},
"strokeDash":{"field":"label","type":"nominal","title":null,"scale":{"domain":["3-D modelling","2.5-D modelling","difference"],"range":[[1,0],[6,3],[3,2]]}},
"strokeWidth":{"field":"label","type":"nominal","title":null,"scale":{"type":"ordinal","domain":["3-D modelling","2.5-D modelling","difference"],"range":[2.2,1.8,1]}}}}
],"spacing":60,"bounds":"flush",
"resolve":{"scale":{"color":"independent","strokeDash":"independent","strokeWidth":"independent"},"legend":{"color":"independent","strokeDash":"independent","strokeWidth":"independent"}}},
{"hconcat":[
{"title":{"text":"Re{ G₁⁽³⁾ }  surface central line profiling","offset":10.5},"width":227,"height":110,
"transform":[{"filter":"datum.p==7"}],
"mark":{"type":"line","interpolate":"monotone"},
"encoding":{
"x":{"field":"x","type":"quantitative","title":"x-distance (km)","scale":{"domain":[-60,60],"nice":false},"axis":{"values":[-60,-40,-20,0,20,40,60]}},
"y":{"field":"v","type":"quantitative","title":null,"scale":{"domain":[-6e-12,8e-12],"nice":false,"zero":false},"axis":{"values":[-6e-12,-2e-12,2e-12,6e-12],"labelExpr":"datum.value==0?'0':upper(toString(datum.value))"}},
"color":{"field":"label","type":"nominal","title":null,"scale":{"domain":["3-D modelling","2.5-D modelling","difference"],"range":["#9c9c9c","#000000","#000000"]},"legend":{"legendX":22,"legendY":0}},
"strokeDash":{"field":"label","type":"nominal","title":null,"scale":{"domain":["3-D modelling","2.5-D modelling","difference"],"range":[[1,0],[6,3],[3,2]]}},
"strokeWidth":{"field":"label","type":"nominal","title":null,"scale":{"type":"ordinal","domain":["3-D modelling","2.5-D modelling","difference"],"range":[2.2,1.8,1]}}}},
{"title":{"text":"Im{ G₁⁽³⁾ }  surface central line profiling","offset":5.5},"width":227,"height":110,
"transform":[{"filter":"datum.p==8"}],
"mark":{"type":"line","interpolate":"monotone"},
"encoding":{
"x":{"field":"x","type":"quantitative","title":"x-distance (km)","scale":{"domain":[-60,60],"nice":false},"axis":{"values":[-60,-40,-20,0,20,40,60]}},
"y":{"field":"v","type":"quantitative","title":null,"scale":{"domain":[-4e-12,6e-12],"nice":false,"zero":false},"axis":{"values":[-4e-12,-2e-12,0,2e-12,4e-12,6e-12],"labelExpr":"datum.value==0?'0':upper(toString(datum.value))"}},
"color":{"field":"label","type":"nominal","title":null,"scale":{"domain":["3-D modelling","2.5-D modelling","difference"],"range":["#9c9c9c","#000000","#000000"]},"legend":{"legendX":132,"legendY":0}},
"strokeDash":{"field":"label","type":"nominal","title":null,"scale":{"domain":["3-D modelling","2.5-D modelling","difference"],"range":[[1,0],[6,3],[3,2]]}},
"strokeWidth":{"field":"label","type":"nominal","title":null,"scale":{"type":"ordinal","domain":["3-D modelling","2.5-D modelling","difference"],"range":[2.2,1.8,1]}}}}
],"spacing":51,"bounds":"flush",
"resolve":{"scale":{"color":"independent","strokeDash":"independent","strokeWidth":"independent"},"legend":{"color":"independent","strokeDash":"independent","strokeWidth":"independent"}}},
{"hconcat":[
{"title":{"text":"Re{ G₃⁽³⁾ }  surface central line profiling","offset":6.5},"width":221,"height":111,
"transform":[{"filter":"datum.p==9"}],
"mark":{"type":"line","interpolate":"monotone"},
"encoding":{
"x":{"field":"x","type":"quantitative","title":"x-distance (km)","scale":{"domain":[-60,60],"nice":false},"axis":{"values":[-60,-40,-20,0,20,40,60]}},
"y":{"field":"v","type":"quantitative","title":null,"scale":{"domain":[-6e-12,8e-12],"nice":false,"zero":false},"axis":{"values":[-6e-12,-2e-12,2e-12,6e-12],"labelExpr":"datum.value==0?'0':upper(toString(datum.value))"}},
"color":{"field":"label","type":"nominal","title":null,"scale":{"domain":["3-D modelling","2.5-D modelling","difference"],"range":["#9c9c9c","#000000","#000000"]},"legend":{"legendX":122,"legendY":-4.5}},
"strokeDash":{"field":"label","type":"nominal","title":null,"scale":{"domain":["3-D modelling","2.5-D modelling","difference"],"range":[[1,0],[6,3],[3,2]]}},
"strokeWidth":{"field":"label","type":"nominal","title":null,"scale":{"type":"ordinal","domain":["3-D modelling","2.5-D modelling","difference"],"range":[2.2,1.8,1]}}}},
{"title":{"text":"Im{ G₃⁽³⁾ }  surface central line profiling","offset":5.5},"width":228,"height":111,
"transform":[{"filter":"datum.p==10"}],
"mark":{"type":"line","interpolate":"monotone"},
"encoding":{
"x":{"field":"x","type":"quantitative","title":"x-distance (km)","scale":{"domain":[-60,60],"nice":false},"axis":{"values":[-60,-40,-20,0,20,40,60]}},
"y":{"field":"v","type":"quantitative","title":null,"scale":{"domain":[-4e-12,8e-12],"nice":false,"zero":false},"axis":{"values":[-4e-12,-2e-12,0,2e-12,4e-12,6e-12,8e-12],"labelExpr":"datum.value==0?'0':upper(toString(datum.value))"}},
"color":{"field":"label","type":"nominal","title":null,"scale":{"domain":["3-D modelling","2.5-D modelling","difference"],"range":["#9c9c9c","#000000","#000000"]},"legend":{"legendX":127,"legendY":-4.5}},
"strokeDash":{"field":"label","type":"nominal","title":null,"scale":{"domain":["3-D modelling","2.5-D modelling","difference"],"range":[[1,0],[6,3],[3,2]]}},
"strokeWidth":{"field":"label","type":"nominal","title":null,"scale":{"type":"ordinal","domain":["3-D modelling","2.5-D modelling","difference"],"range":[2.2,1.8,1]}}}}
],"spacing":57,"bounds":"flush",
"resolve":{"scale":{"color":"independent","strokeDash":"independent","strokeWidth":"independent"},"legend":{"color":"independent","strokeDash":"independent","strokeWidth":"independent"}}}
],"spacing":13,
"resolve":{"scale":{"color":"independent","strokeDash":"independent","strokeWidth":"independent"},"legend":{"color":"independent","strokeDash":"independent","strokeWidth":"independent"}}}
]
}
